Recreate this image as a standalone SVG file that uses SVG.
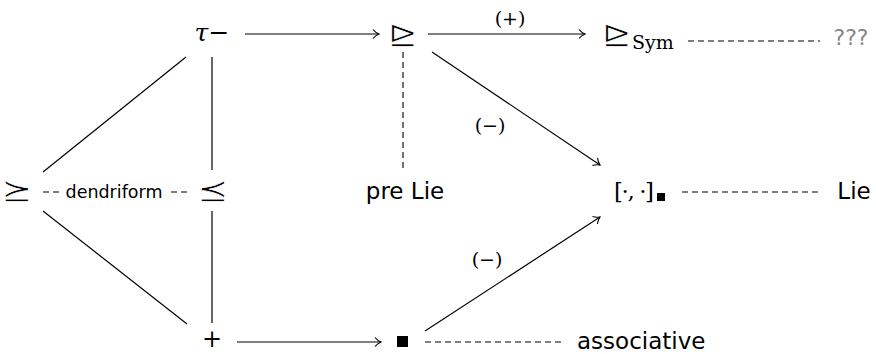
<svg xmlns="http://www.w3.org/2000/svg" width="876" height="354" viewBox="0 0 876 354">
<style>
.m{font-family:"DejaVu Serif","Liberation Serif",serif;fill:#000}
.s{font-family:"DejaVu Sans","Liberation Sans",sans-serif;fill:#000}
.g{font-family:"DejaVu Sans",sans-serif;fill:#000;stroke:#fff;stroke-width:0.8;paint-order:fill}
.ln{stroke:#000;stroke-width:1.2;fill:none}
.ds{stroke:#000;stroke-width:1.1;fill:none;stroke-dasharray:6 4}
</style>
<defs>
<marker id="ar" viewBox="-8 -5 10 10" markerWidth="10" markerHeight="10" refX="0" refY="0" orient="auto" markerUnits="userSpaceOnUse">
<path d="M-6,-4.5 C-4,-2 -1.5,-0.6 0,0 C-1.5,0.6 -4,2 -6,4.5" fill="none" stroke="#000" stroke-width="1.1"/>
</marker>
</defs>
<g id="connectors">
<line class="ln" x1="245" y1="34" x2="379" y2="34" marker-end="url(#ar)"/>
<line class="ln" x1="428" y1="34" x2="585" y2="34" marker-end="url(#ar)"/>
<text class="m" x="510" y="25" font-size="19" text-anchor="middle">(+)</text>
<line class="ds" x1="688" y1="41" x2="820" y2="41"/>
<line class="ln" x1="212" y1="57" x2="212" y2="170"/>
<line class="ln" x1="186" y1="57" x2="43" y2="172"/>
<line class="ln" x1="43" y1="211" x2="187" y2="324"/>
<line class="ln" x1="212" y1="211" x2="212" y2="323"/>
<line class="ds" x1="403" y1="52" x2="403" y2="168"/>
<line class="ln" x1="432" y1="52" x2="600" y2="165" marker-end="url(#ar)"/>
<text class="m" x="490" y="132" font-size="19" text-anchor="middle">(−)</text>
<line class="ln" x1="425" y1="331" x2="600" y2="217" marker-end="url(#ar)"/>
<text class="m" x="487" y="266" font-size="19" text-anchor="middle">(−)</text>
<line class="ln" x1="237" y1="342" x2="381" y2="342" marker-end="url(#ar)"/>
<line class="ds" x1="425" y1="342" x2="562" y2="342"/>
<line class="ds" x1="43" y1="192" x2="60" y2="192"/>
<line class="ds" x1="171" y1="192" x2="189" y2="192"/>
<line class="ds" x1="682" y1="192" x2="822" y2="192" stroke-dasharray="5 4"/>
</g>
<g id="tau"><text class="m" x="212" y="41" font-size="25" text-anchor="middle"><tspan font-style="italic">τ</tspan>−</text></g>
<g id="rhd"><text class="g" transform="translate(403,45) scale(1.15,1)" font-size="31" text-anchor="middle">⊵</text></g>
<g id="rhdsym"><text class="g" transform="translate(617,45) scale(1.15,1)" font-size="31" text-anchor="middle">⊵</text><text class="m" x="632" y="49" font-size="19">Sym</text></g>
<g id="qqq"><text class="s" x="851" y="45" font-size="22" style="fill:#888" text-anchor="middle">???</text></g>
<g id="succeq"><text class="g" transform="translate(17,201) scale(1.2,1)" font-size="31" text-anchor="middle">⪰</text></g>
<g id="dendriform"><text class="s" x="114" y="198" font-size="17.5" text-anchor="middle">dendriform</text></g>
<g id="preceq"><text class="g" transform="translate(213,201) scale(1.2,1)" font-size="31" text-anchor="middle">⪯</text></g>
<g id="prelie"><text class="s" x="405" y="199" font-size="23" text-anchor="middle">pre Lie</text></g>
<g id="bracket"><text class="m" x="614" y="199" font-size="23" textLength="40" lengthAdjust="spacing">[·, ·]</text><rect x="657" y="193" width="8" height="8" fill="#000"/></g>
<g id="lie"><text class="s" x="854" y="199" font-size="23" text-anchor="middle">Lie</text></g>
<g id="plus"><text class="m" x="212" y="347" font-size="24" text-anchor="middle">+</text></g>
<g id="square"><rect x="397" y="336" width="11" height="11" fill="#000"/></g>
<g id="assoc"><text class="s" x="577" y="349" font-size="23">associative</text></g>
</svg>
